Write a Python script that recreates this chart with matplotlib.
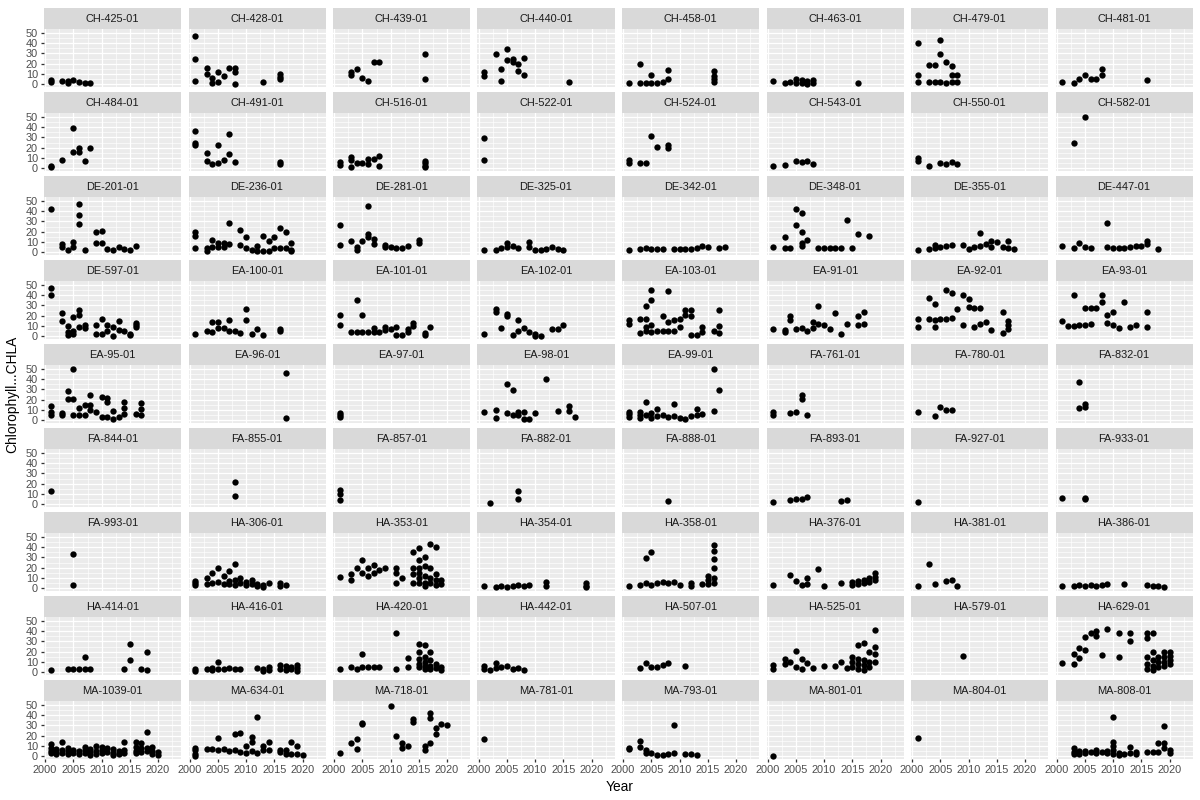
import matplotlib
matplotlib.use("Agg")
import matplotlib.pyplot as plt
from matplotlib.ticker import MultipleLocator

plt.rcParams['font.family'] = ['Liberation Sans', 'DejaVu Sans']

# one entry per station (facet)
sites = [
    "CH-425-01", "CH-428-01", "CH-439-01", "CH-440-01", "CH-458-01", "CH-463-01", "CH-479-01", "CH-481-01",
    "CH-484-01", "CH-491-01", "CH-516-01", "CH-522-01", "CH-524-01", "CH-543-01", "CH-550-01", "CH-582-01",
    "DE-201-01", "DE-236-01", "DE-281-01", "DE-325-01", "DE-342-01", "DE-348-01", "DE-355-01", "DE-447-01",
    "DE-597-01", "EA-100-01", "EA-101-01", "EA-102-01", "EA-103-01", "EA-91-01", "EA-92-01", "EA-93-01",
    "EA-95-01", "EA-96-01", "EA-97-01", "EA-98-01", "EA-99-01", "FA-761-01", "FA-780-01", "FA-832-01",
    "FA-844-01", "FA-855-01", "FA-857-01", "FA-882-01", "FA-888-01", "FA-893-01", "FA-927-01", "FA-933-01",
    "FA-993-01", "HA-306-01", "HA-353-01", "HA-354-01", "HA-358-01", "HA-376-01", "HA-381-01", "HA-386-01",
    "HA-414-01", "HA-416-01", "HA-420-01", "HA-442-01", "HA-507-01", "HA-525-01", "HA-579-01", "HA-629-01",
    "MA-1039-01", "MA-634-01", "MA-718-01", "MA-781-01", "MA-793-01", "MA-801-01", "MA-804-01", "MA-808-01",
]

years = [
    [2001, 2001, 2003, 2004, 2004, 2005, 2006, 2007, 2008],
    [2001, 2001, 2001, 2003, 2003, 2004, 2004, 2005, 2005, 2006, 2007, 2008, 2008, 2008, 2013, 2016, 2016, 2016],
    [2003, 2003, 2004, 2005, 2006, 2007, 2008, 2016, 2016],
    [2001, 2001, 2003, 2004, 2004, 2005, 2005, 2006, 2006, 2007, 2007, 2008, 2008, 2016],
    [2001, 2003, 2003, 2004, 2005, 2005, 2006, 2007, 2008, 2008, 2016, 2016, 2016, 2016],
    [2001, 2003, 2004, 2005, 2005, 2006, 2006, 2007, 2007, 2008, 2008, 2016],
    [2001, 2001, 2001, 2003, 2003, 2004, 2004, 2005, 2005, 2005, 2006, 2006, 2007, 2007, 2007, 2008, 2008],
    [2001, 2003, 2004, 2005, 2006, 2007, 2008, 2008, 2016],
    [2001, 2001, 2003, 2005, 2005, 2006, 2006, 2007, 2008],
    [2001, 2001, 2001, 2003, 2003, 2004, 2005, 2005, 2006, 2007, 2007, 2008, 2016, 2016],
    [2001, 2001, 2003, 2003, 2003, 2004, 2005, 2006, 2006, 2007, 2008, 2008, 2016, 2016, 2016, 2016],
    [2001, 2001],
    [2001, 2001, 2003, 2004, 2005, 2006, 2008, 2008],
    [2001, 2003, 2005, 2006, 2007, 2008],
    [2001, 2001, 2003, 2005, 2006, 2007, 2008],
    [2003, 2005],
    [2001, 2003, 2003, 2004, 2005, 2005, 2006, 2006, 2006, 2007, 2009, 2009, 2010, 2010, 2011, 2012, 2013, 2014, 2015, 2016],
    [2001, 2001, 2001, 2003, 2003, 2004, 2004, 2005, 2005, 2006, 2006, 2007, 2007, 2009, 2009, 2010, 2010, 2011,
     2012, 2012, 2013, 2013, 2014, 2014, 2015, 2015, 2016, 2016, 2017, 2017, 2018, 2018, 2018],
    [2001, 2001, 2003, 2004, 2004, 2005, 2006, 2006, 2006, 2007, 2007, 2009, 2009, 2010, 2011, 2012, 2013, 2015, 2015],
    [2001, 2003, 2004, 2005, 2005, 2006, 2007, 2009, 2009, 2010, 2011, 2012, 2013, 2014, 2015],
    [2001, 2003, 2004, 2005, 2006, 2007, 2009, 2010, 2011, 2012, 2013, 2014, 2015, 2017, 2018],
    [2001, 2003, 2003, 2004, 2005, 2005, 2006, 2006, 2006, 2006, 2007, 2009, 2010, 2011, 2012, 2013, 2014, 2015, 2016, 2018],
    [2001, 2003, 2004, 2004, 2005, 2006, 2007, 2009, 2010, 2011, 2012, 2012, 2013, 2014, 2014, 2015, 2016, 2017, 2017, 2018],
    [2001, 2003, 2004, 2005, 2006, 2009, 2009, 2010, 2011, 2012, 2013, 2014, 2015, 2016, 2016, 2018],
    [2001, 2001, 2003, 2003, 2004, 2004, 2004, 2005, 2005, 2005, 2006, 2006, 2006, 2007, 2007, 2009, 2009, 2010, 2010,
     2011, 2011, 2012, 2012, 2013, 2013, 2014, 2015, 2015, 2016, 2016, 2016],
    [2001, 2003, 2004, 2004, 2005, 2005, 2006, 2007, 2007, 2008, 2009, 2010, 2010, 2011, 2012, 2013, 2016, 2016],
    [2001, 2001, 2003, 2004, 2004, 2005, 2005, 2006, 2007, 2007, 2008, 2009, 2009, 2010, 2011, 2011, 2012, 2013, 2013,
     2014, 2014, 2016, 2016, 2017],
    [2001, 2003, 2003, 2004, 2005, 2005, 2006, 2007, 2007, 2008, 2009, 2010, 2010, 2011, 2013, 2014, 2015],
    [2001, 2001, 2003, 2003, 2004, 2004, 2004, 2004, 2005, 2005, 2005, 2005, 2006, 2007, 2007, 2008, 2008, 2008, 2009,
     2009, 2010, 2010, 2011, 2011, 2012, 2012, 2012, 2013, 2014, 2014, 2016, 2017, 2017, 2017],
    [2001, 2003, 2003, 2004, 2004, 2005, 2006, 2007, 2008, 2008, 2009, 2009, 2010, 2011, 2012, 2013, 2014, 2016, 2016,
     2017, 2017],
    [2001, 2001, 2003, 2003, 2004, 2004, 2004, 2005, 2006, 2006, 2007, 2007, 2008, 2009, 2009, 2010, 2010, 2011, 2011,
     2012, 2012, 2013, 2014, 2016, 2016, 2017, 2017, 2017],
    [2001, 2002, 2003, 2003, 2004, 2005, 2005, 2006, 2006, 2007, 2008, 2008, 2009, 2009, 2010, 2010, 2011, 2012, 2013,
     2014, 2016, 2016],
    [2001, 2001, 2001, 2003, 2003, 2004, 2004, 2005, 2005, 2005, 2006, 2006, 2007, 2007, 2008, 2008, 2008, 2009, 2010,
     2010, 2011, 2011, 2011, 2012, 2012, 2013, 2014, 2014, 2014, 2016, 2017, 2017, 2017],
    [2017, 2017],
    [2001, 2001, 2001],
    [2001, 2003, 2003, 2005, 2006, 2005, 2006, 2007, 2007, 2008, 2008, 2009, 2010, 2012, 2014, 2016, 2016, 2017],
    [2001, 2001, 2001, 2003, 2003, 2003, 2004, 2004, 2005, 2005, 2006, 2006, 2007, 2008, 2009, 2009, 2010, 2011, 2012,
     2013, 2013, 2014, 2016, 2016, 2017],
    [2001, 2001, 2004, 2005, 2006, 2006, 2007],
    [2001, 2004, 2005, 2006, 2007],
    [2004, 2004, 2005, 2005],
    [2001],
    [2008, 2008],
    [2001, 2001, 2001],
    [2002, 2007, 2007],
    [2008],
    [2001, 2004, 2005, 2006, 2007, 2013, 2014],
    [2001],
    [2001, 2005, 2005],
    [2005, 2005],
    [2001, 2001, 2001, 2003, 2003, 2004, 2004, 2005, 2005, 2006, 2006, 2007, 2007, 2007, 2008, 2008, 2008, 2009, 2009,
     2010, 2010, 2011, 2011, 2012, 2012, 2013, 2013, 2014, 2016, 2016, 2017],
    [2001, 2003, 2003, 2004, 2005, 2005, 2006, 2006, 2007, 2007, 2008, 2009, 2011, 2011, 2011, 2012, 2014, 2014, 2014,
     2014, 2015, 2015, 2015, 2015, 2015, 2015, 2016, 2016, 2016, 2016, 2016, 2017, 2017, 2017, 2017, 2018, 2018, 2018,
     2018, 2019, 2019],
    [2001, 2003, 2004, 2005, 2006, 2007, 2008, 2009, 2012, 2012, 2019, 2019, 2019],
    [2001, 2003, 2004, 2004, 2005, 2005, 2006, 2007, 2008, 2009, 2010, 2012, 2012, 2014, 2015, 2015, 2015, 2016, 2016,
     2016, 2016, 2016, 2016],
    [2001, 2004, 2005, 2006, 2007, 2007, 2009, 2010, 2013, 2015, 2015, 2016, 2016, 2017, 2017, 2018, 2018, 2019, 2019, 2019],
    [2001, 2003, 2004, 2006, 2007, 2008],
    [2001, 2003, 2004, 2005, 2006, 2007, 2008, 2009, 2012, 2016, 2017, 2018, 2019],
    [2001, 2004, 2005, 2006, 2007, 2007, 2008, 2014, 2015, 2015, 2017, 2018, 2018],
    [2001, 2001, 2003, 2004, 2004, 2005, 2005, 2006, 2007, 2008, 2009, 2012, 2013, 2013, 2014, 2014, 2016, 2016, 2017,
     2017, 2018, 2018, 2019, 2019, 2019],
    [2001, 2003, 2004, 2005, 2005, 2006, 2007, 2008, 2011, 2011, 2013, 2013, 2015, 2015, 2015, 2015, 2015, 2016, 2016,
     2016, 2016, 2016, 2017, 2017, 2017, 2017, 2018, 2018, 2019, 2019],
    [2001, 2001, 2002, 2003, 2003, 2004, 2005, 2006, 2007, 2008],
    [2003, 2004, 2005, 2006, 2007, 2008, 2011],
    [2001, 2001, 2003, 2003, 2004, 2005, 2005, 2006, 2006, 2007, 2008, 2010, 2012, 2013, 2014, 2015, 2015, 2015, 2016,
     2016, 2016, 2016, 2017, 2017, 2017, 2017, 2018, 2018, 2018, 2019, 2019, 2019, 2019],
    [2009],
    [2001, 2003, 2003, 2004, 2004, 2005, 2005, 2006, 2007, 2007, 2008, 2009, 2011, 2011, 2013, 2013, 2016, 2016, 2016,
     2016, 2016, 2017, 2017, 2017, 2017, 2017, 2018, 2018, 2018, 2019, 2019, 2019, 2019, 2020, 2020, 2020, 2020],
    [2001, 2001, 2001, 2001, 2002, 2002, 2002, 2003, 2003, 2003, 2004, 2004, 2004, 2005, 2005, 2006, 2006, 2007, 2007,
     2007, 2008, 2008, 2008, 2009, 2009, 2009, 2010, 2010, 2010, 2011, 2011, 2012, 2012, 2012, 2013, 2013, 2014, 2014,
     2014, 2016, 2016, 2016, 2016, 2017, 2017, 2017, 2018, 2018, 2018, 2019, 2019, 2019, 2020, 2020],
    [2001, 2001, 2001, 2001, 2003, 2004, 2005, 2005, 2006, 2007, 2008, 2008, 2009, 2009, 2010, 2010, 2011, 2011, 2011,
     2012, 2012, 2013, 2013, 2014, 2014, 2016, 2016, 2017, 2017, 2018, 2018, 2019, 2019, 2020],
    [2001, 2003, 2004, 2004, 2005, 2005, 2010, 2011, 2012, 2012, 2013, 2014, 2014, 2016, 2016, 2017, 2017, 2017, 2018,
     2018, 2019, 2020],
    [2001],
    [2001, 2001, 2003, 2003, 2004, 2004, 2005, 2006, 2007, 2008, 2009, 2009, 2011, 2012, 2013],
    [2001],
    [2001],
    [2003, 2003, 2003, 2004, 2004, 2005, 2005, 2006, 2007, 2007, 2008, 2009, 2009, 2010, 2010, 2010, 2010, 2010, 2011,
     2011, 2012, 2013, 2013, 2014, 2014, 2016, 2017, 2018, 2018, 2019, 2019, 2019, 2020, 2020],
]

chla = [
    [2, 4, 3, 1, 3, 4, 2, 1, 1],
    [47, 25, 3, 16, 10, 6, 1, 12, 2, 8, 16, 16, 12, 0, 2, 10, 7, 5],
    [9.5, 11.5, 15, 6, 3.5, 22, 22, 29, 5],
    [11.5, 8.5, 29, 14.5, 3, 34.5, 24, 25, 22, 20, 13, 25.5, 9.5, 2],
    [1.7, 20, 1.7, 1.7, 9, 1.7, 1.7, 2, 13.5, 5, 13, 8, 5, 2.5],
    [3.4, 1.7, 2.4, 5, 1, 3.8, 1, 3, 0, 3.8, 1, 1],
    [40, 9, 2.7, 18.5, 2.7, 18.5, 2.7, 43, 29, 2, 22, 1, 18, 9, 2, 9, 2.7],
    [2.7, 1, 5, 8.6, 5, 5, 15, 9, 4.5],
    [2.7, 1.4, 8, 39, 15.5, 19.5, 16, 7.5, 19.5],
    [36, 25, 23, 14.5, 7, 4, 5, 23, 8, 33.5, 14, 6, 6.5, 4.5],
    [6, 3, 11, 8, 1.4, 5, 5, 9, 4, 9, 12, 2.4, 7, 5, 2.4, 1],
    [29, 8],
    [8, 5, 5, 5, 31, 20.5, 23, 19.5],
    [2.7, 3.4, 7, 6.5, 7.5, 4],
    [10, 7, 2.7, 5, 4, 6, 4],
    [25, 49.5],
    [42, 8, 5.5, 2.4, 10, 5, 47, 36, 27, 2.7, 19.5, 9.5, 21, 9.5, 3, 2.7, 5, 3, 2.4, 6.5],
    [19.5, 16, 4.5, 1, 4.5, 11.5, 5, 9, 5, 9, 5, 28.5, 8.5, 22, 7, 15, 4, 2.4,
     6, 1.4, 16, 1, 11, 1, 15, 4, 23.5, 4, 20, 4, 9, 2.4, 1],
    [26, 7, 11, 5, 2.4, 11, 45, 17.5, 15, 12.5, 8, 7.5, 5, 5, 4, 4, 6.5, 11.5, 9],
    [2.4, 2.4, 4, 9, 5, 5.8, 4, 10, 5.4, 2.4, 2.4, 3, 5.4, 3, 2.4],
    [2.4, 3, 4.4, 3, 3, 3, 3.4, 3, 3, 3.4, 4.4, 5.8, 5, 4, 5],
    [5, 15, 4, 4, 42, 26, 38.5, 19.5, 9, 6.5, 11.5, 4, 4, 4, 4, 4, 31, 4, 17.5, 16],
    [2.4, 3, 7.5, 4, 5, 6, 7, 7, 3, 5, 18.5, 5.8, 8, 11, 5, 10, 5, 11, 4, 3],
    [5.8, 4, 9, 5, 4, 28.5, 5, 4, 4, 4, 5, 5.8, 6.5, 11, 8, 3],
    [47, 40, 23, 15, 10, 3.7, 1, 19, 5.4, 2.7, 25.5, 20.5, 9.5, 10.5, 8, 11, 2.7, 17, 2.7,
     11, 5.4, 9, 0.3, 15, 6, 4.7, 1.4, 2.7, 9, 13, 11],
    [2.4, 4.7, 4, 13.5, 14, 8, 8, 5.4, 16, 5.4, 3.4, 26, 16, 2.4, 6.8, 1.7, 6.8, 4.7],
    [21, 11, 4, 35, 4, 21, 4, 4, 4, 8, 4, 9, 6, 7, 9, 1.7, 1.7, 7, 4,
     10, 13, 3.4, 1.4, 9.5],
    [2.7, 26.5, 24, 8, 22, 19.5, 1.4, 16, 4.7, 8, 3.7, 2, 0.5, 0.3, 6.8, 6.8, 11],
    [15.5, 12, 17, 3.4, 17, 4.7, 29.5, 9, 45, 35, 10.5, 3.7, 4.7, 19.5, 5.4, 43.5, 14, 5.4, 15.5,
     4.7, 17, 9, 25.5, 21, 25.5, 19.5, 1, 1.4, 3.7, 9, 5.4, 25.5, 10, 3.4],
    [7, 6, 3.7, 19.5, 16, 7, 8, 4.7, 14, 8, 29, 11.5, 10.5, 7, 23, 2, 11.5, 19.5, 10.5,
     24, 12],
    [17, 9, 37, 17, 31, 15.5, 9.5, 17, 17, 44.5, 18, 42, 26.5, 40.5, 10.5, 36, 28.5, 27.5, 9,
     27, 12, 13.5, 6, 24, 3.4, 14.5, 10.5, 7],
    [15, 10, 40, 10, 10.5, 27.5, 11, 27.5, 12, 27.5, 40.5, 33, 21, 13, 24, 10.5, 8, 33, 9,
     10.5, 24, 9],
    [13.5, 8, 4.7, 7.5, 4.7, 28, 21, 50, 21, 4.7, 11.5, 4.7, 15, 4.7, 24.5, 15, 10, 8, 22.5,
     3, 22, 17.5, 3, 9.5, 1.4, 3, 17.5, 12.3, 6, 6.5, 17, 10.5, 4.7],
    [45.5, 2.7],
    [7, 4.7, 3.4],
    [8, 10, 2.7, 35, 29, 7, 5.4, 8, 4.7, 8, 1.4, 1.4, 6.8, 40.5, 8.8, 13.5, 8.8, 3.4],
    [8, 6, 3.4, 8, 2, 5, 17.5, 4.7, 7, 2.7, 10.5, 3.7, 4.7, 3.4, 15.5, 3.7, 2.7, 1.4, 3.7,
     11, 4.7, 6, 49.5, 9.5, 29.5],
    [8, 5.4, 7, 8, 24.5, 21, 4.7],
    [8, 3.7, 13.3, 10, 10],
    [37.5, 12.3, 15.7, 13.3],
    [13],
    [22, 8],
    [14, 10, 4],
    [1.5, 13, 5.5],
    [3],
    [2, 4, 5, 5.5, 7, 3, 4],
    [2],
    [6, 5.5, 6.5],
    [33, 3],
    [7, 5, 3, 10, 4, 15, 5, 20, 6, 12, 4, 17, 7, 4, 24, 8, 3, 10, 5,
     6, 3, 8, 4, 4, 2, 3, 1, 5, 5, 2, 3],
    [11, 14, 8, 20, 27, 15, 20, 12, 23, 15, 18, 20, 20, 15, 5, 10, 35, 20, 14,
     5, 39, 27, 20, 15, 10, 5, 30, 22, 12, 5, 2, 43, 20, 10, 5, 40, 14, 8,
     3, 8, 4],
    [2, 1, 2, 1, 2, 3, 2, 3, 6, 2, 5, 2, 1],
    [2, 3, 5, 29, 35, 3, 5, 6, 5, 6, 3, 5, 2, 4, 12, 8, 4, 42, 36,
     28, 20, 10, 5],
    [3, 13, 7, 3, 10, 4, 19, 2, 5, 6, 3, 7, 4, 8, 5, 10, 6, 15, 11, 8],
    [2, 24, 4, 7, 8, 2],
    [2, 2, 3, 2, 3, 2, 3, 4, 4, 3, 2, 2, 1],
    [2, 3, 3, 3, 15, 3, 3, 3, 27, 12, 3, 20, 2],
    [3, 1, 3, 4, 2, 10, 3, 3, 4, 3, 3, 4, 3, 1, 5, 2, 7, 3, 6,
     2, 5, 3, 7, 4, 1],
    [3, 5, 3, 18, 5, 5, 5, 5, 38, 3, 14, 5, 27, 20, 13, 8, 5, 26, 15,
     10, 6, 3, 20, 12, 6, 3, 8, 4, 5, 2],
    [6, 3, 2, 9, 4, 5, 6, 3, 4, 2],
    [4, 9, 5, 5, 7, 9, 6],
    [7, 3, 13, 8, 10, 21, 5, 13, 3, 9, 4, 6, 6, 10, 4, 15, 10, 5, 26,
     13, 8, 3, 28, 12, 7, 2, 20, 10, 5, 41, 25, 18, 10],
    [16],
    [9, 18, 8, 24, 14, 34, 22, 38, 40, 35, 17, 42, 38, 15, 38, 30, 38, 33, 15,
     8, 3, 38, 20, 12, 6, 2, 15, 10, 5, 20, 15, 10, 6, 20, 16, 12, 8],
    [12, 8, 5, 3, 7, 4, 2, 14, 6, 3, 8, 5, 2, 6, 3, 5, 2, 9, 6,
     3, 7, 4, 1, 10, 5, 2, 9, 6, 3, 8, 4, 7, 3, 1, 5, 2, 14, 6,
     3, 14, 9, 5, 3, 13, 8, 4, 24, 8, 5, 9, 5, 2, 4, 1],
    [8, 5.7, 2.3, 0.7, 6.7, 6.7, 17.5, 5.7, 6.7, 5, 22, 5.7, 23, 4, 9.7, 3, 19, 13.8, 5,
     38.5, 3, 9.7, 5.7, 13.8, 5.7, 6.4, 4, 5.7, 2.3, 13.8, 2.3, 9.7, 2.3, 1.7],
    [3, 12.5, 16.5, 6.7, 32.5, 31, 49, 20, 12.5, 8.5, 9.7, 36, 33.5, 9.7, 5.7, 42, 37.5, 13, 27.5,
     22, 31, 30],
    [17],
    [8.4, 6.7, 14.8, 9, 5.7, 3.4, 3, 1.7, 1.7, 2.3, 30, 3, 2.3, 2.3, 1.7],
    [0.7],
    [17.4],
    [8, 4, 2, 5, 2, 5, 3, 4, 6, 3, 4, 5, 3, 38, 14, 10, 6, 2, 3,
     1, 2, 9, 3, 4, 2, 4, 4, 13, 4, 29, 13, 8, 6, 3],
]

for s, x, y in zip(sites, years, chla):
    if len(x) != len(y):
        raise ValueError(f"{s}: {len(x)} years vs {len(y)} values")

W, H = 1200, 800
NCOL = 8
NROW = 9
fig = plt.figure(figsize=(W / 72, H / 72), dpi=72)


def box(left, top, w, h):
    # pixel box -> figure fraction
    return [left / W, 1 - (top + h) / H, w / W, h / H]


for i, site in enumerate(sites):
    r, c = divmod(i, NCOL)
    left = 44 + c * 144.5
    top = 7.5 + r * 84

    strip = fig.add_axes(box(left, top, 137, 21.5))
    strip.set_facecolor('#D9D9D9')
    strip.set_xticks([])
    strip.set_yticks([])
    for sp in strip.spines.values():
        sp.set_visible(False)
    strip.text(0.5, 0.47, site, ha='center', va='center', fontsize=11,
               color='#1A1A1A', transform=strip.transAxes)

    ax = fig.add_axes(box(left, top + 21.5, 137, 58))
    ax.set_facecolor('#EBEBEB')
    ax.scatter(years[i], chla[i], s=40, color='black', linewidths=0, zorder=3)
    ax.set_xlim(1999.8, 2024.05)
    ax.set_ylim(-2.6, 53.6)
    ax.xaxis.set_major_locator(MultipleLocator(5))
    ax.xaxis.set_minor_locator(MultipleLocator(2.5))
    ax.yaxis.set_major_locator(MultipleLocator(10))
    ax.yaxis.set_minor_locator(MultipleLocator(5))
    ax.grid(which='major', color='white', linewidth=1.3)
    ax.grid(which='minor', color='white', linewidth=0.65)
    ax.set_axisbelow(True)
    for sp in ax.spines.values():
        sp.set_visible(False)
    ax.tick_params(which='minor', length=0)
    ax.tick_params(which='major', length=3.4, width=1.3, color='#333333',
                   labelsize=11, labelcolor='#4D4D4D', pad=2.5)
    if c != 0:
        ax.tick_params(axis='y', left=False, labelleft=False)
    if r != NROW - 1:
        ax.tick_params(axis='x', bottom=False, labelbottom=False)

fig.text(12 / W, 1 - 394 / H, "Chlorophyll...CHLA", rotation=90,
         ha='center', va='center', fontsize=13.75, color='black')
fig.text(620 / W, 1 - 787 / H, "Year", ha='center', va='center',
         fontsize=13.75, color='black')

fig.savefig("out.png", dpi=72)
